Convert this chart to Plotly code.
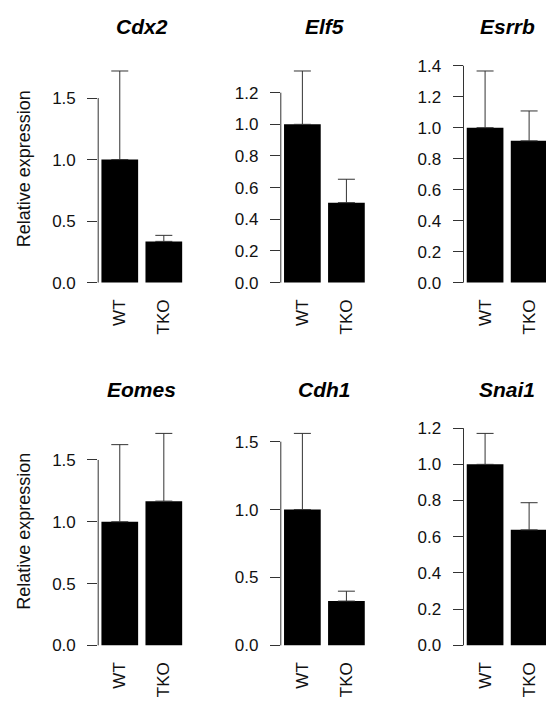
import plotly.graph_objects as go

genes = ["Cdx2", "Elf5", "Esrrb", "Eomes", "Cdh1", "Snai1"]
groups = ["WT", "TKO"]
means = {
    "Cdx2": [1.0, 0.335],
    "Elf5": [1.0, 0.505],
    "Esrrb": [1.0, 0.915],
    "Eomes": [1.0, 1.167],
    "Cdh1": [1.0, 0.326],
    "Snai1": [1.0, 0.638],
}
errors = {
    "Cdx2": [0.72, 0.049],
    "Elf5": [0.337, 0.148],
    "Esrrb": [0.366, 0.193],
    "Eomes": [0.624, 0.548],
    "Cdh1": [0.561, 0.073],
    "Snai1": [0.171, 0.150],
}
yticks = {
    "Cdx2": [0.0, 0.5, 1.0, 1.5],
    "Elf5": [0.0, 0.2, 0.4, 0.6, 0.8, 1.0, 1.2],
    "Esrrb": [0.0, 0.2, 0.4, 0.6, 0.8, 1.0, 1.2, 1.4],
    "Eomes": [0.0, 0.5, 1.0, 1.5],
    "Cdh1": [0.0, 0.5, 1.0, 1.5],
    "Snai1": [0.0, 0.2, 0.4, 0.6, 0.8, 1.0, 1.2],
}
ylabel = "Relative expression"

W, H = 546, 708
FONT = "Liberation Sans, Arial, sans-serif"
LINE = "#333333"

col_left = [98.2, 280.8, 463.5]     # px
row_top = [57.1, 423.1]             # px
row_bot = [287.9, 654.3]
px_per_cat = 44.04
x_lo = -0.49
full_w = 1.98 * px_per_cat

fig = go.Figure()
layout = dict(
    width=W, height=H, margin=dict(l=0, r=0, t=0, b=0),
    plot_bgcolor="white", paper_bgcolor="white", showlegend=False,
    bargap=1/6, font=dict(family=FONT, size=17, color="#111"),
)
shapes = []
annotations = []

for i, g in enumerate(genes):
    r, c = divmod(i, 3)
    k = "" if i == 0 else str(i + 1)
    left = col_left[c]
    right = min(left + full_w, W)
    x_hi = x_lo + (right - left) / px_per_cat
    top_val = max(m + e for m, e in zip(means[g], errors[g]))

    fig.add_trace(go.Bar(
        x=groups, y=means[g], xaxis="x" + k, yaxis="y" + k,
        marker=dict(color="black", line=dict(width=0)),
        error_y=dict(type="data", symmetric=False, array=errors[g],
                     arrayminus=[0] * len(groups), color=LINE,
                     thickness=1, width=8.5),
    ))
    layout["xaxis" + k] = dict(
        domain=[left / W, right / W], range=[x_lo, x_hi],
        anchor="y" + k, type="category", showline=False, showgrid=False,
        zeroline=False, ticks="", tickangle=-90, ticklabelstandoff=4,
        tickfont=dict(size=17, color="#111"),
    )
    layout["yaxis" + k] = dict(
        domain=[(H - row_bot[r]) / H, (H - row_top[r]) / H],
        range=[-0.04 * top_val, 1.04 * top_val], anchor="x" + k,
        showline=False, showgrid=False, zeroline=False,
        tickvals=yticks[g], tickformat=".1f", ticks="outside", ticklen=10,
        tickcolor=LINE, tickwidth=1, ticklabelstandoff=8,
        tickfont=dict(size=17, color="#111"),
    )
    shapes.append(dict(type="line", xref="x%s domain" % k, yref="y" + k,
                       x0=0, x1=0, y0=yticks[g][0], y1=yticks[g][-1],
                       line=dict(color=LINE, width=1)))
    annotations.append(dict(
        text="<b><i>%s</i></b>" % g, xref="x%s domain" % k, yref="paper",
        x=(0.5 * full_w) / (right - left),
        y=(H - (21 + 366 * r)) / H, xanchor="center", yanchor="middle",
        showarrow=False, font=dict(size=21, color="black", family=FONT),
    ))
    if c == 0:
        annotations.append(dict(
            text=ylabel, xref="paper", yref="paper",
            x=24 / W, y=(H - (165 + 366 * r)) / H, textangle=-90,
            xanchor="center", yanchor="middle", showarrow=False,
            font=dict(size=18, color="#111", family=FONT),
        ))

layout["shapes"] = shapes
layout["annotations"] = annotations
fig.update_layout(**layout)
fig.write_html("out.html",
               config={"displayModeBar": False, "staticPlot": True},
               post_script="document.body.style.margin='0px';"
                           "document.body.style.overflow='hidden';")
